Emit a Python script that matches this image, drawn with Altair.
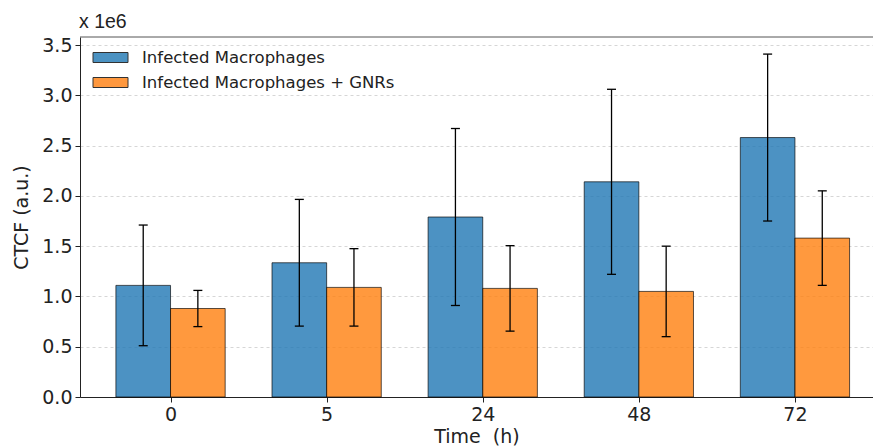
import altair as alt
import pandas as pd

times = ["0", "5", "24", "48", "72"]
groups = ["Infected Macrophages", "Infected Macrophages + GNRs"]
colors = ["#1f77b4", "#ff7f0e"]
# values in units of 1e6
mean_inf = [1.11, 1.335, 1.79, 2.14, 2.58]
sd_inf = [0.60, 0.63, 0.88, 0.92, 0.83]
mean_gnr = [0.88, 1.09, 1.08, 1.05, 1.58]
sd_gnr = [0.18, 0.385, 0.425, 0.45, 0.47]
y_ticks = [0.0, 0.5, 1.0, 1.5, 2.0, 2.5, 3.0, 3.5]

rows = []
for i, t in enumerate(times):
    rows.append({"idx": i, "time": t, "group": groups[0], "g": 0, "mean": mean_inf[i], "sd": sd_inf[i]})
    rows.append({"idx": i, "time": t, "group": groups[1], "g": 1, "mean": mean_gnr[i], "sd": sd_gnr[i]})
df = pd.DataFrame(rows)

W, H = 793, 360
FONT = "DejaVu Sans"
bw = 0.35

xscale = alt.Scale(domain=[-0.58, 4.5], nice=False, zero=False)
yscale = alt.Scale(domain=[0, 3.58], nice=False, zero=False)

label_expr = "[" + ",".join("'%s'" % t for t in times) + "][datum.value]"

base = alt.Chart(df).transform_calculate(
    x0=f"datum.idx + (datum.g == 0 ? -{bw} : 0)",
).transform_calculate(
    x1=f"datum.x0 + {bw}",
    xc=f"datum.x0 + {bw / 2}",
    lo="datum.mean - datum.sd",
    hi="datum.mean + datum.sd",
)

bars = base.mark_bar(fillOpacity=0.8, stroke="black", strokeOpacity=0.65, strokeWidth=1).encode(
    x=alt.X("x0:Q", scale=xscale,
            axis=alt.Axis(values=list(range(len(times))), labelExpr=label_expr,
                          title="Time\u00a0\u00a0(h)",
                          grid=False, tickSize=5, labelPadding=3, titlePadding=3)),
    x2="x1:Q",
    y=alt.Y("mean:Q", scale=yscale,
            axis=alt.Axis(values=y_ticks, format=".1f", title="CTCF (a.u.)", grid=True,
                          gridDash=[3, 3], gridColor="#cccccc", gridWidth=0.8,
                          tickSize=5, labelPadding=3, titlePadding=10)),
    y2=alt.datum(0),
    color=alt.Color("group:N", scale=alt.Scale(domain=groups, range=colors),
                    legend=alt.Legend(title=None, orient="none", legendX=20, legendY=10,
                                      padding=0, symbolType="M-1.75,-0.5H1.75V0.5H-1.75Z",
                                      symbolSize=400, symbolStrokeColor="black",
                                      symbolStrokeWidth=1, symbolOpacity=0.8,
                                      labelOffset=21, rowPadding=6, labelLimit=0,
                                      labelFontSize=16.5, labelFont=FONT, labelColor="#222")),
)

err = base.mark_rule(color="black", strokeWidth=1.3).encode(
    x="xc:Q", y="lo:Q", y2="hi:Q"
)
cap_lo = base.mark_tick(orient="horizontal", size=9, thickness=1.3, color="black", opacity=1).encode(
    x="xc:Q", y="lo:Q"
)
cap_hi = base.mark_tick(orient="horizontal", size=9, thickness=1.3, color="black", opacity=1).encode(
    x="xc:Q", y="hi:Q"
)

top_spine = alt.Chart(pd.DataFrame({"a": [0]})).mark_rule(color="#555", strokeWidth=1).encode(
    x=alt.value(0), x2=alt.value(W), y=alt.value(0)
)

chart = alt.layer(bars, err, cap_lo, cap_hi, top_spine).properties(
    width=W, height=H,
    title=alt.TitleParams("x 1e6", anchor="start", frame="group", fontSize=19.5,
                          font="Liberation Sans", fontWeight="normal", color="#222",
                          dx=-1, offset=4),
    autosize=alt.AutoSizeParams(type="none"),
    padding={"left": 80, "top": 37, "right": 0, "bottom": 49},
    background="white",
).configure_view(stroke=None).configure_axis(
    labelFont=FONT, titleFont=FONT, labelFontSize=19, titleFontSize=19,
    titleFontWeight="normal", labelColor="#222", titleColor="#222",
    domainColor="#222", tickColor="#222", domainWidth=1, tickWidth=1,
)

chart.save("out.html", embed_options={"renderer": "svg", "actions": False})
